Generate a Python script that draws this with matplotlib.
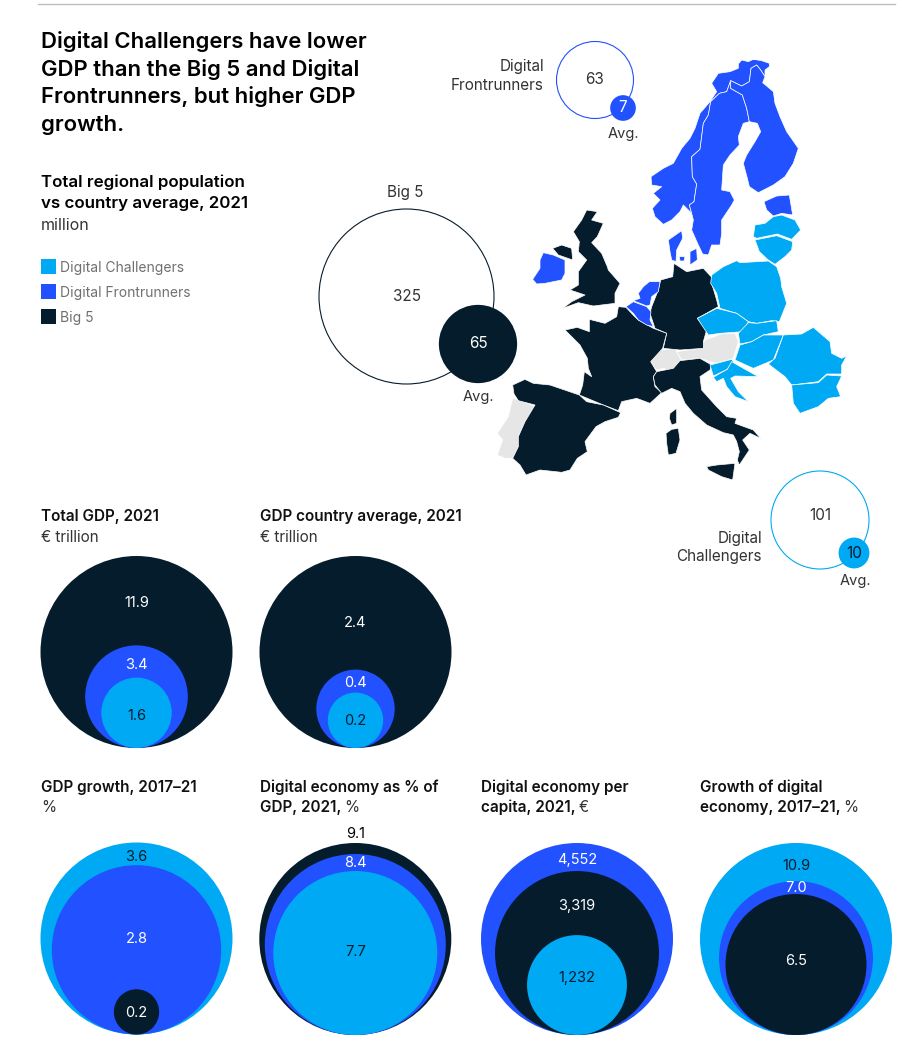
"""Digital Challengers vs Big 5 vs Digital Frontrunners: nested circles and region map."""

import matplotlib
matplotlib.use("Agg")
import matplotlib.pyplot as plt
from matplotlib.patches import Circle, Polygon, Rectangle

NAVY = "#051C2C"
BLUE = "#2251FF"
CYAN = "#00A9F4"
GREY = "#E6E6E6"
TEXT = "#333333"
MUTED = "#707070"

plt.rcParams["font.family"] = ["Inter", "DejaVu Sans"]

W, H = 902, 1060

# nested circle panels: values, outermost first
GROUP_COLORS = {"C": CYAN, "F": BLUE, "B": NAVY}
TOTAL_GDP = [11.9, 3.4, 1.6]
TOTAL_GDP_GROUPS = ["B", "F", "C"]
AVG_GDP = [2.4, 0.4, 0.2]
AVG_GDP_GROUPS = ["B", "F", "C"]
GDP_GROWTH = [3.6, 2.8, 0.2]
GDP_GROWTH_GROUPS = ["C", "F", "B"]
DIGITAL_SHARE = [9.1, 8.4, 7.7]
DIGITAL_SHARE_GROUPS = ["B", "F", "C"]
DIGITAL_PER_CAPITA = [4552, 3319, 1232]
DIGITAL_PER_CAPITA_GROUPS = ["F", "B", "C"]
DIGITAL_GROWTH = [10.9, 7.0, 6.5]
DIGITAL_GROWTH_GROUPS = ["C", "F", "B"]

# population: regional total and country average
POP_BIG5 = [325, 65]
POP_FRONT = [63, 7]
POP_CHALL = [101, 10]

LEGEND_LABELS = ["Digital Challengers", "Digital Frontrunners", "Big 5"]
LEGEND_COLORS = [CYAN, BLUE, NAVY]

# country outlines in map units (3 units per pixel)
NORWAY = [(745,25),(745,12),(755,0),(775,5),(790,-2),(815,2),(838,10),(838,20),(825,30),(825,50),(812,30),(800,15),(783,25),(778,65),(755,78),(722,62),(710,95),(688,100),(662,125),(655,165),(640,190),(630,268),(605,290),(607,350),(620,372),(612,425),(598,435),(605,460),(580,435),(570,455),(545,480),(520,493),(495,470),(487,445),(510,420),(490,400),(515,380),(485,375),(483,350),(520,325),(550,310),(575,265),(600,235),(615,205),(630,160),(660,125),(680,95),(665,70),(685,40),(720,35)]
SWEDEN = [(722,62),(710,95),(688,100),(662,125),(655,165),(640,190),(630,268),(605,290),(607,350),(620,372),(612,425),(598,435),(605,460),(610,480),(605,510),(625,555),(638,582),(655,585),(665,555),(690,555),(695,520),(695,480),(725,435),(733,420),(720,395),(695,390),(700,315),(720,285),(748,255),(745,230),(760,190),(778,185),(770,145),(757,105),(722,85)]
FINLAND = [(722,62),(755,78),(778,65),(783,25),(800,15),(812,30),(825,50),(818,68),(850,95),(855,130),(870,170),(890,215),(925,265),(910,310),(885,350),(850,375),(805,398),(778,380),(772,355),(760,310),(770,285),(795,245),(812,215),(802,190),(778,185),(770,145),(757,105),(722,85)]
ESTONIA = [(822,425),(860,408),(898,405),(908,465),(875,460),(850,468),(830,450)]
LATVIA = [(790,530),(795,495),(825,490),(850,470),(875,465),(915,480),(932,510),(905,538),(862,522),(800,535)]
LITHUANIA = [(795,540),(860,527),(908,545),(905,570),(885,590),(855,613),(835,600),(808,575)]
POLAND = [(665,645),(700,620),(740,602),(750,608),(835,603),(860,620),(872,655),(875,680),(890,730),(868,785),(845,782),(800,790),(775,785),(740,760),(690,745),(680,700),(662,670)]
GERMANY = [(512,660),(548,650),(552,610),(590,635),(640,625),(668,655),(665,670),(680,720),(685,740),(622,775),(650,810),(640,845),(640,865),(570,870),(520,865),(530,820),(495,805),(480,760),(485,740),(505,690)]
NETHERLANDS = [(430,722),(450,715),(445,700),(460,680),(478,665),(510,665),(505,695),(485,710),(480,735),(470,738)]
BELGIUM = [(408,740),(430,725),(470,740),(483,755),(480,780),(490,800),(470,795),(445,780),(430,760)]
FRANCE = [(385,740),(408,742),(432,768),(445,780),(490,805),(530,820),(518,865),(482,905),(500,935),(490,950),(495,980),(515,998),(480,1030),(440,1015),(395,1025),(385,1052),(340,1035),(268,1005),(278,975),(283,935),(305,950),(295,925),(292,895),(270,855),(225,810),(262,802),(298,815),(298,778),(345,790),(380,770)]
SPAIN = [(68,975),(105,958),(130,970),(180,975),(268,1005),(290,1025),(340,1035),(392,1058),(385,1072),(345,1085),(318,1100),(285,1145),(292,1175),(262,1195),(240,1230),(215,1237),(150,1230),(108,1245),(90,1215),(68,1195),(85,1160),(85,1130),(105,1085),(135,1035),(85,1022),(72,1002)]
PORTUGAL = [(68,1015),(95,1022),(135,1040),(105,1085),(85,1130),(85,1160),(68,1195),(45,1195),(22,1185),(38,1140),(22,1120),(55,1070)]
BRITAIN = [(290,450),(322,455),(305,480),(340,490),(322,530),(305,548),(335,580),(352,620),(355,630),(390,670),(375,700),(375,730),(310,738),(265,728),(218,745),(245,725),(285,705),(240,690),(265,675),(265,635),(290,600),(265,575),(268,545),(250,515),(275,480)]
N_IRELAND = [(188,565),(215,555),(245,565),(248,600),(225,592),(205,585)]
IRELAND = [(128,658),(150,625),(150,600),(160,578),(190,585),(225,600),(225,640),(215,660),(165,670),(140,672)]
DENMARK = [(535,540),(575,512),(578,535),(560,570),(558,605),(545,600),(540,575)]
ZEALAND = [(600,575),(620,565),(622,600),(600,615)]
FUNEN = [(568,590),(585,590),(582,603),(570,603)]
SWITZERLAND = [(478,905),(510,870),(555,865),(570,895),(580,905),(555,920),(550,935),(520,925),(500,930)]
AUSTRIA = [(560,875),(630,865),(645,840),(700,820),(735,820),(745,845),(730,895),(680,910),(630,895),(575,900)]
CZECHIA = [(622,775),(680,745),(740,760),(775,785),(760,815),(690,820),(655,825)]
SLOVAKIA = [(745,820),(775,788),(800,790),(860,782),(865,815),(820,825),(785,845),(750,852)]
HUNGARY = [(750,855),(785,845),(820,825),(880,825),(850,900),(790,925),(735,900)]
ROMANIA = [(880,825),(935,822),(970,802),(985,815),(1020,845),(1025,880),(1055,895),(1070,888),(1055,915),(1055,942),(1010,942),(985,965),(905,975),(885,950),(835,912),(855,895)]
BULGARIA = [(905,975),(985,968),(1010,945),(1055,948),(1040,980),(1052,1010),(1015,1015),(985,1040),(930,1060),(910,1030)]
SLOVENIA = [(660,915),(680,910),(725,898),(730,905),(712,928),(670,948)]
CROATIA = [(670,952),(690,940),(712,928),(725,905),(760,925),(805,950),(735,948),(722,955),(745,995),(775,1025),(735,1010),(710,980),(700,955),(680,965)]
ITALY = [(500,935),(550,925),(570,902),(630,895),(665,915),(660,930),(630,950),(635,990),(680,1040),(710,1070),(740,1075),(735,1090),(790,1110),(812,1135),(780,1120),(758,1140),(778,1170),(748,1215),(742,1200),(748,1175),(740,1145),(730,1125),(700,1118),(650,1095),(610,1060),(585,1030),(570,995),(545,985),(515,1000),(495,975),(490,950)]
SARDINIA = [(528,1120),(545,1108),(565,1105),(570,1140),(558,1180),(535,1185),(530,1150)]
CORSICA = [(540,1060),(560,1045),(560,1090),(545,1095),(538,1075)]
SICILY = [(650,1220),(680,1215),(735,1210),(728,1260),(695,1250),(655,1230)]

MAP_FRONT = [NORWAY, SWEDEN, FINLAND, ESTONIA, NETHERLANDS, BELGIUM, IRELAND, DENMARK, ZEALAND, FUNEN]
MAP_CHALL = [LATVIA, LITHUANIA, POLAND, CZECHIA, SLOVAKIA, HUNGARY, ROMANIA, BULGARIA, SLOVENIA, CROATIA]
MAP_BIG5 = [GERMANY, FRANCE, SPAIN, BRITAIN, N_IRELAND, ITALY, SARDINIA, CORSICA, SICILY]
MAP_OTHER = [PORTUGAL, SWITZERLAND, AUSTRIA]

fig = plt.figure(figsize=(W / 100, H / 100), dpi=100)
ax = fig.add_axes([0, 0, 1, 1])
ax.set_xlim(0, W)
ax.set_ylim(H, 0)
ax.axis("off")

ax.plot([38, 895], [4, 4], color="#BDBDBD", linewidth=1)

# title block
for y, line in zip([47.5, 75.5, 103, 131],
                   ["Digital Challengers have lower", "GDP than the Big 5 and Digital",
                    "Frontrunners, but higher GDP", "growth."]):
    ax.text(41, y, line, fontsize=15.9, fontweight="semibold", color="#000000", va="baseline")
for y, line in zip([187, 208], ["Total regional population", "vs country average, 2021"]):
    ax.text(41, y, line, fontsize=12.2, fontweight="semibold", color="#000000", va="baseline")
ax.text(41, 229.5, "million", fontsize=11.5, color=TEXT, va="baseline")

for y, label, color in zip([259, 284, 309], LEGEND_LABELS, LEGEND_COLORS):
    ax.add_patch(Rectangle((41, y), 15, 15, color=color, linewidth=0))
    ax.text(60, y + 13, label, fontsize=10, color=MUTED, va="baseline")


def title_with_unit(x, y, bold, regular):
    t = ax.text(x, y, bold, fontsize=11, fontweight="semibold", color="#111111", va="baseline")
    if regular:
        box = t.get_window_extent(fig.canvas.get_renderer())
        end = ax.transData.inverted().transform((box.x1, box.y0))[0]
        ax.text(end + 3, y, regular, fontsize=11, color=TEXT, va="baseline")


def label_color(fill):
    return NAVY if fill == CYAN else "white"


def nested(cx, bottom, values, groups, text_values, label_ys, radius=96.0, fixes=None):
    fixes = fixes or {}
    for i, (value, group) in enumerate(zip(values, groups)):
        r = fixes.get(i, radius * (value / values[0]) ** 0.5)
        ax.add_patch(Circle((cx, bottom - r), r, color=GROUP_COLORS[group], linewidth=0))
    for txt, group, y in zip(text_values, groups, label_ys):
        ax.text(cx, y + 1, txt, fontsize=10.5, color=label_color(GROUP_COLORS[group]),
                ha="center", va="center")


title_with_unit(41, 521, "Total GDP, 2021", "")
ax.text(41, 542, "€ trillion", fontsize=11, color=TEXT, va="baseline")
nested(136.5, 748, TOTAL_GDP, TOTAL_GDP_GROUPS, [f"{v}" for v in TOTAL_GDP], [602, 664, 715])

title_with_unit(259.5, 521, "GDP country average, 2021", "")
ax.text(259.5, 542, "€ trillion", fontsize=11, color=TEXT, va="baseline")
nested(355.5, 748, AVG_GDP, AVG_GDP_GROUPS, [f"{v}" for v in AVG_GDP], [622, 682, 720])

title_with_unit(41, 792, "GDP growth, 2017–21", "")
ax.text(41, 812, "%", fontsize=11, color=TEXT, va="baseline")
nested(136.5, 1034.5, GDP_GROWTH, GDP_GROWTH_GROUPS, [f"{v}" for v in GDP_GROWTH], [856, 938, 1012])

title_with_unit(259.5, 792, "Digital economy as % of", "")
title_with_unit(259.5, 812, "GDP, 2021,", "%")
nested(355.3, 1035, DIGITAL_SHARE, DIGITAL_SHARE_GROUPS, [f"{v}" for v in DIGITAL_SHARE],
       [864, 862, 951], fixes={1: 90.5, 2: 82})
# 9.1 sits just above its circle
ax.texts[-3].set_y(834)
ax.texts[-3].set_color("#000000")

title_with_unit(481, 792, "Digital economy per", "")
title_with_unit(481, 812, "capita, 2021,", "€")
nested(577, 1035, DIGITAL_PER_CAPITA, DIGITAL_PER_CAPITA_GROUPS,
       [f"{v:,}" for v in DIGITAL_PER_CAPITA], [859, 905, 977])

title_with_unit(700, 792, "Growth of digital", "")
title_with_unit(700, 812, "economy, 2017–21,", "%")
nested(796, 1035, DIGITAL_GROWTH, DIGITAL_GROWTH_GROUPS, [f"{v}" for v in DIGITAL_GROWTH],
       [865, 887, 960], fixes={2: 70.5})


def population(cx, cy, r, avg_cx, avg_cy, values, color, label_x, label_y, value_y=None):
    ax.add_patch(Circle((cx, cy), r, facecolor="white", edgecolor=color, linewidth=0.8))
    ax.text(cx, cy if value_y is None else value_y, f"{values[0]}", fontsize=11, color=TEXT,
            ha="center", va="center")
    avg_r = r * (values[1] / values[0]) ** 0.5
    ax.add_patch(Circle((avg_cx, avg_cy), avg_r, color=color, linewidth=0))
    ax.text(avg_cx, avg_cy, f"{values[1]}", fontsize=11,
            color=label_color(color), ha="center", va="center")
    ax.text(label_x, label_y, "Avg.", fontsize=10.5, color=TEXT, ha="center", va="center")


# map sits on its own axes so outlines stay in map units
map_ax = fig.add_axes([490 / W, 1 - 490 / H, 370 / W, 430 / H])
map_ax.set_xlim(0, 1110)
map_ax.set_ylim(1290, 0)
map_ax.axis("off")
map_ax.patch.set_alpha(0)
for outlines, color in ((MAP_OTHER, GREY), (MAP_BIG5, NAVY), (MAP_FRONT, BLUE), (MAP_CHALL, CYAN)):
    for outline in outlines:
        map_ax.add_patch(Polygon(outline, closed=True, facecolor=color, edgecolor="white",
                                 linewidth=0.5, joinstyle="round"))

population(406.5, 296.5, 87.5, 478, 344, POP_BIG5, NAVY, 478, 397)
ax.text(405, 192, "Big 5", fontsize=11, color=TEXT, ha="center", va="center")
population(595, 80, 38.5, 623, 108, POP_FRONT, BLUE, 623, 134)
for y, line in zip([66, 85], ["Digital", "Frontrunners"]):
    ax.text(544, y, line, fontsize=11, color=TEXT, ha="right", va="center")
population(820, 520, 49, 854, 553, POP_CHALL, CYAN, 855, 581, value_y=516)
for y, line in zip([538, 557], ["Digital", "Challengers"]):
    ax.text(762, y, line, fontsize=11, color=TEXT, ha="right", va="center")

fig.savefig("out.png", dpi=100)
